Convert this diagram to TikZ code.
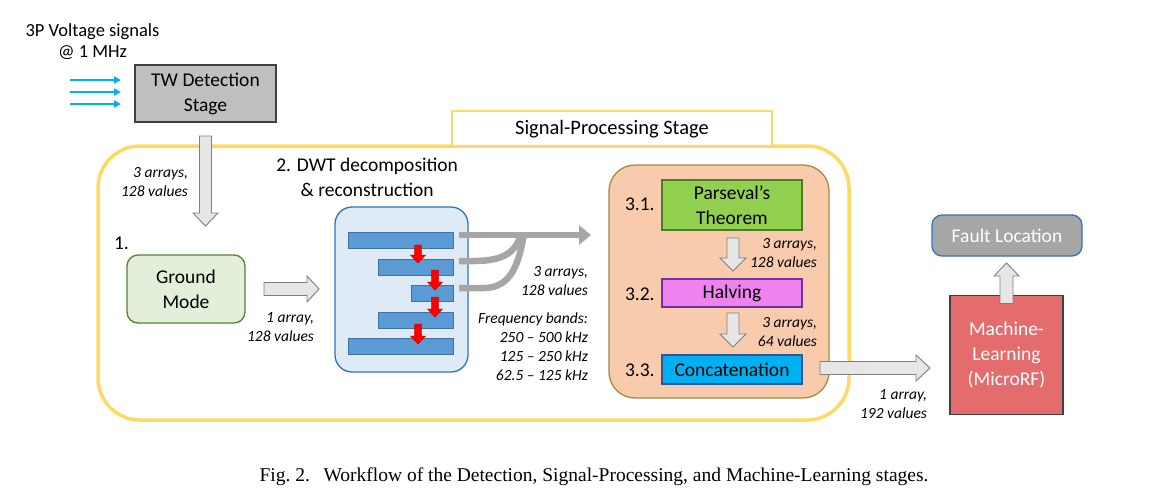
\documentclass[tikz,border=0pt]{standalone}
\usepackage{fontspec}
\setmainfont{Carlito}
\newfontfamily\capfont{Liberation Serif}
\usetikzlibrary{arrows.meta,calc}
\definecolor{yel}{HTML}{FFD966}
\definecolor{twfill}{HTML}{BFBFBF}
\definecolor{gmfill}{HTML}{E2EFDA}
\definecolor{gmdraw}{HTML}{548235}
\definecolor{dwtfill}{HTML}{DEEBF7}
\definecolor{dwtdraw}{HTML}{2E75B6}
\definecolor{barfill}{HTML}{5B9BD5}
\definecolor{bardraw}{HTML}{41719C}
\definecolor{orfill}{HTML}{F8CBAD}
\definecolor{ordraw}{HTML}{A68A3C}
\definecolor{pvfill}{HTML}{92D050}
\definecolor{pvdraw}{HTML}{4F7A28}
\definecolor{hvfill}{HTML}{EE82EE}
\definecolor{hvdraw}{HTML}{7030A0}
\definecolor{ccfill}{HTML}{00B0F0}
\definecolor{ccdraw}{HTML}{2F5597}
\definecolor{mlfill}{HTML}{E46C6C}
\definecolor{mldraw}{HTML}{404040}
\definecolor{flfill}{HTML}{A6A6A6}
\definecolor{arrfill}{HTML}{E7E6E6}
\definecolor{arrdraw}{HTML}{7F7F7F}
\definecolor{sigblue}{HTML}{00B0F0}
\definecolor{lgray}{HTML}{A6A6A6}
% block arrows: #1 style, #2 start, #3 tip, #4 shaft half, #5 head half, #6 head length
\newcommand\blockdown[6]{\draw[#1] let \p1=(#2),\p2=(#3) in
  (\x1-#4,\y1) -- (\x1-#4,\y2+#6) -- (\x1-#5,\y2+#6) -- (\x1,\y2) --
  (\x1+#5,\y2+#6) -- (\x1+#4,\y2+#6) -- (\x1+#4,\y1) -- cycle;}
\newcommand\blockup[6]{\draw[#1] let \p1=(#2),\p2=(#3) in
  (\x1-#4,\y1) -- (\x1-#4,\y2-#6) -- (\x1-#5,\y2-#6) -- (\x1,\y2) --
  (\x1+#5,\y2-#6) -- (\x1+#4,\y2-#6) -- (\x1+#4,\y1) -- cycle;}
\newcommand\blockright[6]{\draw[#1] let \p1=(#2),\p2=(#3) in
  (\x1,\y1+#4) -- (\x2-#6,\y1+#4) -- (\x2-#6,\y1+#5) -- (\x2,\y1) --
  (\x2-#6,\y1-#5) -- (\x2-#6,\y1-#4) -- (\x1,\y1-#4) -- cycle;}
\begin{document}
\begin{tikzpicture}[x=1pt,y=-1pt,
  every node/.style={inner sep=0pt,outer sep=0pt},
  main/.style={font=\fontsize{19.5}{25}\selectfont,align=center},
  lab/.style={font=\fontsize{15.5}{19}\selectfont\itshape,align=right},
  box/.style={main,draw,line width=1.3pt},
  bar/.style={draw=bardraw,fill=barfill,line width=0.8pt,minimum height=16pt,anchor=east},
  barrow/.style={draw=arrdraw,fill=arrfill,line width=0.9pt},
  rarrow/.style={draw=red!80!black,fill=red,line width=0.5pt},
  gline/.style={draw=lgray,line width=6.5pt},
  sigarr/.style={draw=sigblue,line width=2.3pt,-{Triangle[length=7pt,width=7pt]}}]
\useasboundingbox (0,0) rectangle (1155,501);
% outer signal-processing frame
\node[draw=yel,line width=1.5pt,fill=white,minimum width=320pt,minimum height=35pt] (sptitle) at (612,128.5) {};
\draw[yel,line width=3.5pt,rounded corners=42pt] (98,146) rectangle (849,420);
\fill[white] (453.5,143) rectangle (770.5,145);
\node[main,font=\fontsize{20.5}{25}\selectfont] (sptext) at (612,129) {Signal-Processing Stage};
% input
\node[main,font=\fontsize{18.5}{21}\selectfont] (input) at (92.5,41.5) {3P Voltage signals\\@ 1 MHz};
\node[box,draw=mldraw,fill=twfill,minimum width=141pt,minimum height=57pt] (tw) at (205.5,93.5) {TW Detection\\Stage};
\coordinate (s1) at (70,80); \coordinate (s2) at (70,92); \coordinate (s3) at (70,104);
\coordinate (e1) at (121,80); \coordinate (e2) at (121,92); \coordinate (e3) at (121,104);
\draw[sigarr] (s1) -- (e1);
\draw[sigarr] (s2) -- (e2);
\draw[sigarr] (s3) -- (e3);
% ground mode
\node[box,draw=gmdraw,fill=gmfill,rounded corners=11pt,minimum width=118pt,minimum height=68pt] (gm) at (186,289) {Ground\\Mode};
\node[main,anchor=west] (n1) at (114,243) {1.};
\coordinate (a1s) at ($(tw.south)+(0,14)$);
\coordinate (a1t) at ($(gm.north)+(19,-29)$);
\blockdown{barrow}{a1s}{a1t}{6pt}{12.5pt}{13pt}
\node[lab,anchor=east] (l1) at (188,182.5) {3 arrays,\\128 values};
% DWT
\node[main,anchor=east] (dwtt) at (458,177.5) {2. DWT decomposition\\\& reconstruction};
\node[draw=dwtdraw,fill=dwtfill,line width=1.3pt,rounded corners=17pt,minimum width=133pt,minimum height=165pt] (dwt) at (401.5,289.5) {};
\node[bar,minimum width=105pt] (b1) at (453,240) {};
\node[bar,minimum width=75pt] (b2) at (453,267.5) {};
\node[bar,minimum width=42pt] (b3) at (453,293) {};
\node[bar,minimum width=75pt] (b4) at (453,320) {};
\node[bar,minimum width=105pt] (b5) at (453,346.5) {};
\coordinate (r1s) at (418,245); \coordinate (r1t) at (418,263);
\coordinate (r2s) at (435,270); \coordinate (r2t) at (435,290);
\coordinate (r3s) at (435,297); \coordinate (r3t) at (435,317);
\coordinate (r4s) at (418,324); \coordinate (r4t) at (418,344);
\blockdown{rarrow}{r1s}{r1t}{3.3pt}{7.5pt}{8pt}
\blockdown{rarrow}{r2s}{r2t}{3.3pt}{7.5pt}{8pt}
\blockdown{rarrow}{r3s}{r3t}{3.3pt}{7.5pt}{8pt}
\blockdown{rarrow}{r4s}{r4t}{3.3pt}{7.5pt}{8pt}
\coordinate (a2s) at ($(gm.east)+(19,0)$);
\coordinate (a2t) at ($(dwt.west)+(-16,0)$);
\blockright{barrow}{a2s}{a2t}{6.5pt}{13pt}{12pt}
\node[lab,anchor=east] (l2) at (314,327.5) {1 array,\\128 values};
% gray branch lines
\node[draw=ordraw,fill=orfill,line width=1.3pt,rounded corners=26pt,minimum width=220pt,minimum height=233pt] (proc) at (719,281.5) {};
\coordinate (g1) at ($(b1.east)+(6,-5)$);
\coordinate (g2) at ($(b2.east)+(6,-6.5)$);
\coordinate (g3) at ($(b3.east)+(6,-5)$);
\coordinate (gt) at ($(proc.west |- g1)+(-18,0)$);
\draw[gline,line cap=butt,-{Triangle[length=12pt,width=19pt]}] (g1) -- (gt);
\draw[gline] (g2) -- ++(15,0) .. controls +(30,0) and (516,252) .. (521,234);
\draw[gline] (g3) -- ++(25,0) .. controls +(28,0) and (519,262) .. (524,234);
\node[lab,anchor=east] (l3) at (588,281) {3 arrays,\\128 values};
\node[lab,anchor=east] (l4) at (588,347) {Frequency bands:\\250 -- 500 kHz\\125 -- 250 kHz\\62.5 -- 125 kHz};
% processing steps
\node[box,draw=pvdraw,fill=pvfill,minimum width=140pt,minimum height=50pt] (pv) at (732,205) {Parseval's\\Theorem};
\node[box,draw=hvdraw,fill=hvfill,minimum width=140pt,minimum height=28pt] (hv) at (732,293) {Halving};
\node[box,draw=ccdraw,fill=ccfill,minimum width=140pt,minimum height=29pt] (cc) at (732,369.5) {Concatenation};
\node[main,anchor=west] (n31) at (625,204) {3.1.};
\node[main,anchor=west] (n32) at (625,294) {3.2.};
\node[main,anchor=west] (n33) at (625,370.5) {3.3.};
\coordinate (a3s) at ($(pv.south)+(1,8)$);
\coordinate (a3t) at ($(hv.north)+(1,-8)$);
\blockdown{barrow}{a3s}{a3t}{6pt}{13pt}{13pt}
\coordinate (a4s) at ($(hv.south)+(1,6)$);
\coordinate (a4t) at ($(cc.north)+(1,-8)$);
\blockdown{barrow}{a4s}{a4t}{6pt}{13pt}{13pt}
\node[lab,anchor=east] (l5) at (817,253) {3 arrays,\\128 values};
\node[lab,anchor=east] (l6) at (817,332) {3 arrays,\\64 values};
% machine learning
\node[box,draw=mldraw,fill=mlfill,text=white,minimum width=113pt,minimum height=119pt] (ml) at (1006.5,355) {Machine-\\Learning\\(MicroRF)};
\node[box,draw=dwtdraw,fill=flfill,text=white,rounded corners=10pt,minimum width=150pt,minimum height=41pt] (fl) at (1007,235.5) {Fault Location};
\coordinate (a5s) at ($(cc.east)+(18,-1.5)$);
\coordinate (a5t) at ($(ml.west |- a5s)+(-20,0)$);
\blockright{barrow}{a5s}{a5t}{6.5pt}{13pt}{14pt}
\node[lab,anchor=east] (l7) at (927,404.5) {1 array,\\192 values};
\coordinate (a6s) at ($(ml.north)+(0,8)$);
\coordinate (a6t) at ($(fl.south)+(0,7)$);
\blockup{barrow}{a6s}{a6t}{6.5pt}{12.5pt}{13pt}
% caption
\node[font=\capfont\fontsize{19.5}{23}\selectfont] (cap) at (594,477) {Fig.~2.\hspace{0.7em}Workflow of the Detection, Signal-Processing, and Machine-Learning stages.};
\end{tikzpicture}
\end{document}
